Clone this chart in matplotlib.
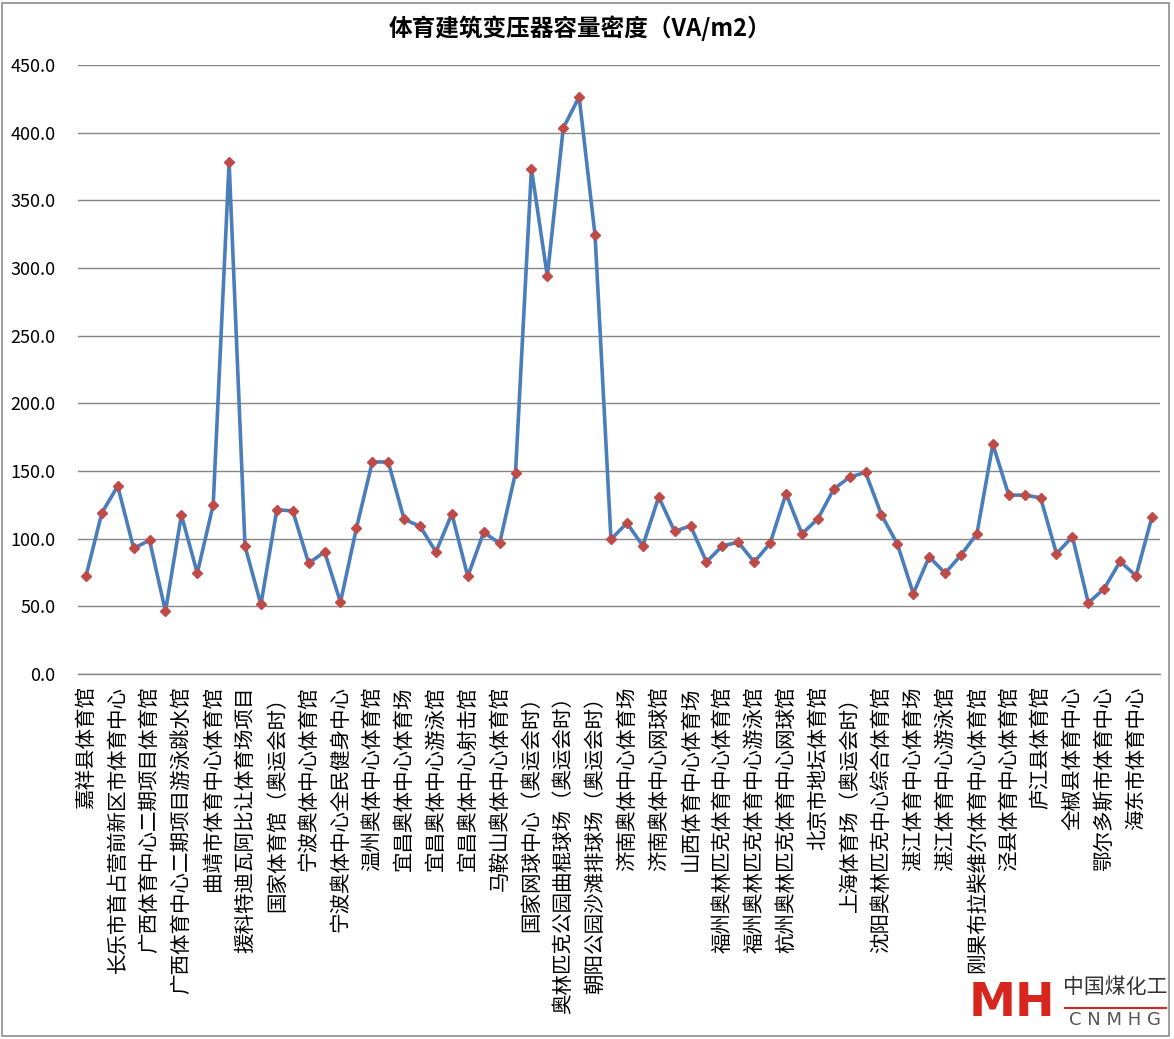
import matplotlib
matplotlib.use("Agg")
import matplotlib.pyplot as plt
from matplotlib.patches import Rectangle

plt.rcParams['font.family'] = ['Noto Sans CJK SC', 'DejaVu Sans']

title = "体育建筑变压器容量密度（VA/m2）"

# Visible category labels (Excel shows every other category)
shown_labels = [
    "嘉祥县体育馆", "长乐市首占营前新区市体育中心", "广西体育中心二期项目体育馆",
    "广西体育中心二期项目游泳跳水馆", "曲靖市体育中心体育馆", "援科特迪瓦阿比让体育场项目",
    "国家体育馆（奥运会时）", "宁波奥体中心体育馆", "宁波奥体中心全民健身中心",
    "温州奥体中心体育馆", "宜昌奥体中心体育场", "宜昌奥体中心游泳馆",
    "宜昌奥体中心射击馆", "马鞍山奥体中心体育馆", "国家网球中心（奥运会时）",
    "奥林匹克公园曲棍球场（奥运会时）", "朝阳公园沙滩排球场（奥运会时）", "济南奥体中心体育场",
    "济南奥体中心网球馆", "山西体育中心体育场", "福州奥林匹克体育中心体育馆",
    "福州奥林匹克体育中心游泳馆", "杭州奥林匹克体育中心网球馆", "北京市地坛体育馆",
    "上海体育场（奥运会时）", "沈阳奥林匹克中心综合体育馆", "湛江体育中心体育场",
    "湛江体育中心游泳馆", "刚果布拉柴维尔体育中心体育馆", "泾县体育中心体育馆",
    "庐江县体育馆", "全椒县体育中心", "鄂尔多斯市体育中心", "海东市体育中心",
]

values = [
    72.1, 119.0, 138.9, 92.9, 98.8, 46.3, 117.5, 74.5, 125.0, 378.2,
    94.4, 51.4, 121.4, 120.5, 81.9, 90.2, 53.1, 107.7, 156.7, 156.7,
    114.3, 109.2, 90.2, 118.4, 72.1, 104.8, 96.5, 148.7, 373.4, 293.9,
    403.4, 426.5, 324.1, 99.4, 111.6, 94.7, 130.9, 105.4, 109.5, 82.8,
    94.7, 97.4, 82.8, 96.5, 133.3, 103.6, 114.6, 136.6, 145.5, 149.0,
    117.6, 96.0, 59.4, 86.6, 74.5, 87.9, 103.7, 169.8, 132.2, 132.2,
    130.2, 88.9, 101.5, 52.5, 63.1, 83.2, 72.5, 116.1,
]

y_ticks = [0, 50, 100, 150, 200, 250, 300, 350, 400, 450]

fig = plt.figure(figsize=(11.74, 10.39), dpi=100)
ax = fig.add_axes([0.0664, 0.3513, 0.9216, 0.5861])

x = list(range(len(values)))
ax.plot(x, values, color='#4A7EBB', linewidth=2.6, marker='D', markersize=5.5,
        markerfacecolor='#BE4B48', markeredgecolor='#BE4B48', zorder=3,
        solid_joinstyle='round')

ax.set_xlim(-0.5, len(values) - 0.5)
ax.set_ylim(0, 450)
ax.set_yticks(y_ticks)
ax.set_yticklabels([f"{v:.1f}" for v in y_ticks], fontsize=13)
ax.yaxis.grid(True, color='#868686', linewidth=1.0)
ax.set_axisbelow(True)

tick_pos = list(range(0, len(values), 2))[:len(shown_labels)]
ax.set_xticks(tick_pos)
ax.set_xticklabels(shown_labels, rotation=90, fontsize=14.8, va='top', ha='center')
ax.tick_params(axis='x', length=0, pad=9)
ax.tick_params(axis='y', length=0, pad=16)

for s in ['left', 'right', 'top']:
    ax.spines[s].set_visible(False)
ax.spines['bottom'].set_color('#868686')
ax.spines['bottom'].set_linewidth(1.0)

fig.text(0.494, 0.973, title, ha='center', va='center', fontsize=17, fontweight='bold')

# Chart area border
fig.patches.append(Rectangle((0.002, 0.003), 0.994, 0.994, transform=fig.transFigure,
                             fill=False, edgecolor='#8C8C8C', linewidth=1.2))

# Watermark
fig.text(0.862, 0.034, "MH", color='#D7261E', fontsize=34, fontweight='bold',
         ha='center', va='center', family=['DejaVu Sans'])
fig.text(0.950, 0.050, "中国煤化工", color='#333333', fontsize=15, ha='center', va='center')
fig.add_artist(plt.Line2D([0.907, 0.993], [0.030, 0.030], transform=fig.transFigure,
                          color='#D7261E', linewidth=1.5))
fig.text(0.950, 0.018, "C N M H G", color='#555555', fontsize=13, ha='center', va='center',
         family=['DejaVu Sans'])

fig.savefig("out.png", dpi=100, facecolor='white')
